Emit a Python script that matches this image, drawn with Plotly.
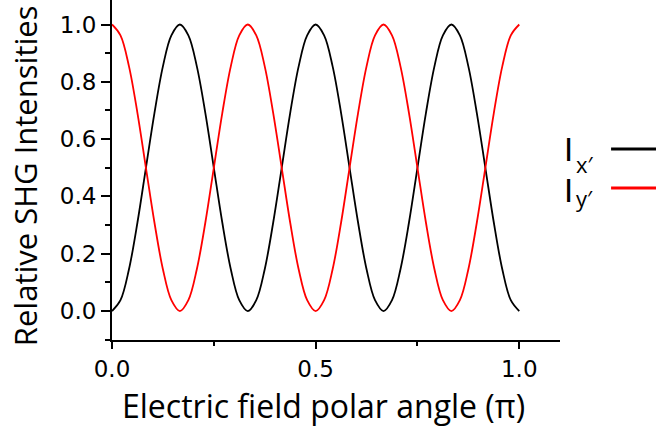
import plotly.graph_objects as go

angle = [0.0, 0.0208, 0.0417, 0.0625, 0.0833, 0.1042, 0.125, 0.1458, 0.1667, 0.1875,
         0.2083, 0.2292, 0.25, 0.2708, 0.2917, 0.3125, 0.3333, 0.3542, 0.375, 0.3958,
         0.4167, 0.4375, 0.4583, 0.4792, 0.5, 0.5208, 0.5417, 0.5625, 0.5833, 0.6042,
         0.625, 0.6458, 0.6667, 0.6875, 0.7083, 0.7292, 0.75, 0.7708, 0.7917, 0.8125,
         0.8333, 0.8542, 0.875, 0.8958, 0.9167, 0.9375, 0.9583, 0.9792, 1.0]

ix = [0.0, 0.038, 0.146, 0.309, 0.5, 0.691, 0.854, 0.962, 1.0, 0.962,
      0.854, 0.691, 0.5, 0.309, 0.146, 0.038, 0.0, 0.038, 0.146, 0.309,
      0.5, 0.691, 0.854, 0.962, 1.0, 0.962, 0.854, 0.691, 0.5, 0.309,
      0.146, 0.038, 0.0, 0.038, 0.146, 0.309, 0.5, 0.691, 0.854, 0.962,
      1.0, 0.962, 0.854, 0.691, 0.5, 0.309, 0.146, 0.038, 0.0]

iy = [1.0, 0.962, 0.854, 0.691, 0.5, 0.309, 0.146, 0.038, 0.0, 0.038,
      0.146, 0.309, 0.5, 0.691, 0.854, 0.962, 1.0, 0.962, 0.854, 0.691,
      0.5, 0.309, 0.146, 0.038, 0.0, 0.038, 0.146, 0.309, 0.5, 0.691,
      0.854, 0.962, 1.0, 0.962, 0.854, 0.691, 0.5, 0.309, 0.146, 0.038,
      0.0, 0.038, 0.146, 0.309, 0.5, 0.691, 0.854, 0.962, 1.0]

x_ticks = [0.0, 0.5, 1.0]
x_ticklabels = ["0.0", "0.5", "1.0"]
y_ticks = [0.0, 0.2, 0.4, 0.6, 0.8, 1.0]
y_ticklabels = ["0.0", "0.2", "0.4", "0.6", "0.8", "1.0"]

series_main = ["I", "I"]
series_subs = ["x′", "y′"]
series_colors = ["#000000", "#ff0000"]

fig = go.Figure()
for vals, m, s, col in zip([ix, iy], series_main, series_subs, series_colors):
    fig.add_trace(go.Scatter(x=angle, y=vals, mode="lines", name=m + s,
                             line=dict(color=col, width=1.8, shape="spline"),
                             showlegend=False))

tick_font = dict(family="DejaVu Sans, sans-serif", size=23, color="#000")
title_font = dict(family="Open Sans, sans-serif", size=32, color="#000")

fig.update_layout(
    width=656, height=429,
    margin=dict(l=112, r=96, t=0, b=89),
    paper_bgcolor="white", plot_bgcolor="white",
    xaxis=dict(range=[0, 1.10], tickvals=x_ticks, ticktext=x_ticklabels,
               ticks="outside", ticklen=7, tickwidth=2, tickcolor="#000",
               minor=dict(tickvals=[0.25, 0.75], ticks="outside", ticklen=4, tickwidth=2, tickcolor="#000"),
               showline=True, linecolor="#000", linewidth=2, showgrid=False, zeroline=False,
               tickfont=tick_font),
    yaxis=dict(range=[-0.101, 1.0855], tickvals=y_ticks, ticktext=y_ticklabels,
               ticks="outside", ticklen=9, tickwidth=2, tickcolor="#000",
               minor=dict(tickvals=[-0.1, 0.1, 0.3, 0.5, 0.7, 0.9], ticks="outside", ticklen=5, tickwidth=2, tickcolor="#000"),
               showline=True, linecolor="#000", linewidth=2, showgrid=False, zeroline=False,
               tickfont=tick_font),
)

# axis titles
fig.add_annotation(x=0.473, y=-0.194, xref="paper", yref="paper",
                   text="Electric field polar angle (π)", showarrow=False,
                   xanchor="center", yanchor="middle", font=title_font)
fig.add_annotation(x=-0.194, y=0.482, xref="paper", yref="paper",
                   text="Relative SHG Intensities", showarrow=False, textangle=-90,
                   xanchor="center", yanchor="middle",
                   font=dict(family="Open Sans, sans-serif", size=31, color="#000"))

# legend drawn to the right: text then line sample
main_y = [0.559, 0.441]
sub_pos = [(1.031, 0.519), (1.031, 0.419)]
line_y = [0.562, 0.447]
for m, s, col, my, (sx, sy), ly in zip(series_main, series_subs, series_colors, main_y, sub_pos, line_y):
    fig.add_annotation(x=1.0045, y=my, xref="paper", yref="paper", text=m,
                       showarrow=False, xanchor="left", yanchor="middle",
                       font=dict(family="Liberation Sans, sans-serif", size=33, color="#000"))
    fig.add_annotation(x=sx, y=sy, xref="paper", yref="paper", text=s,
                       showarrow=False, xanchor="left", yanchor="middle",
                       font=dict(family="Open Sans, sans-serif", size=22, color="#000"))
    fig.add_shape(type="line", xref="paper", yref="paper", x0=1.114, x1=1.22, y0=ly, y1=ly,
                  line=dict(color=col, width=3))

fig.write_html("out.html", config={"displayModeBar": False},
               post_script="document.body.style.margin='0';")
